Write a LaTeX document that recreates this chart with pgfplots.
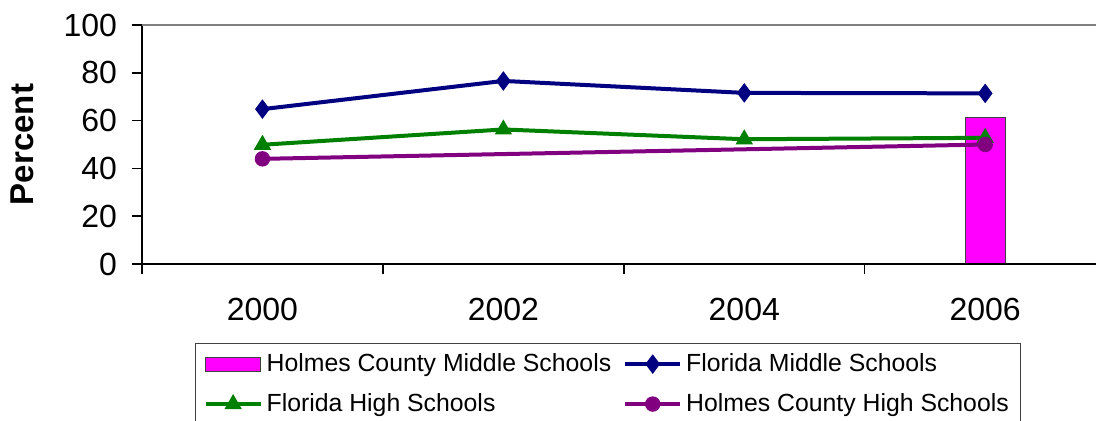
\documentclass[border=0pt]{standalone}
\usepackage{fontspec}
\setmainfont{Liberation Sans}
\usepackage{pgfplots}
\pgfplotsset{compat=1.18}
\definecolor{fmid}{RGB}{0,0,128}
\definecolor{fhigh}{RGB}{0,128,0}
\definecolor{hhigh}{RGB}{128,0,128}
\definecolor{hbar}{RGB}{255,0,255}
\begin{document}
\begin{tikzpicture}
\begin{axis}[
  at={(0,0)}, anchor=south west,
  scale only axis, width=477pt, height=119.5pt,
  xmin=-0.5, xmax=3.46, ymin=0, ymax=100,
  axis line style={draw=none},
  tick pos=left, tick align=outside,
  major tick length=5pt,
  tick style={black, line width=0.75pt},
  ytick={0,20,40,60,80,100},
  xtick={-0.5,0.5,1.5,2.5,3.5},
  xticklabels={},
  extra x ticks={0,1,2,3},
  extra x tick labels={2000,2002,2004,2006},
  extra x tick style={major tick length=0pt, xticklabel style={yshift=-13.5pt}},
  /pgf/number format/assume math mode=true,
  every tick label/.append style={font=\fontsize{16}{18}\selectfont},
  yticklabel style={xshift=-4pt},
  ylabel={\textbf{Percent}},
  ylabel style={at={(axis description cs:-0.1258,0.5)}, anchor=center, font=\fontsize{16.5}{18}\selectfont},
  legend columns=2,
  legend cell align=left,
  legend style={at={(axis description cs:0.0556,-0.3305)}, anchor=north west,
    draw=darkgray, line width=0.6pt, font=\fontsize{12.4}{14}\selectfont,
    row sep=5.5pt, inner xsep=4pt, inner ysep=3pt,
    /tikz/every even column/.append style={column sep=4pt}},
  legend image code/.code={\draw[mark repeat=2,mark phase=2,#1] plot coordinates {(0pt,0pt) (13.75pt,0pt) (27.5pt,0pt)};},
  clip=false,
]
\addplot[ybar, bar width=20pt, fill=hbar, draw=darkgray, line width=0.5pt,
  legend image code/.code={\draw[fill=hbar, draw=darkgray, line width=0.5pt] (0pt,-3.5pt) rectangle (27.5pt,3.5pt);}]
  coordinates {(3,61.5)};
\addlegendentry{Holmes County Middle Schools}
\addplot[fmid, line width=2pt, mark=diamond*, mark size=4.5pt, mark options={fill=fmid, draw=fmid, line width=0.5pt}]
  coordinates {(0,64.8) (1,76.6) (2,71.6) (3,71.4)};
\addlegendentry{Florida Middle Schools}
\addplot[fhigh, line width=2pt, mark=triangle*, mark size=4.5pt, mark options={fill=fhigh, draw=fhigh, line width=0.5pt}]
  coordinates {(0,49.9) (1,56.3) (2,52.2) (3,52.8)};
\addlegendentry{Florida High Schools}
\addplot[hhigh, line width=2pt, mark=*, mark size=3.6pt, mark options={fill=hhigh, draw=hhigh, line width=0.5pt}]
  coordinates {(0,44.0) (3,50.0)};
\addlegendentry{Holmes County High Schools}
\draw[black, line width=0.75pt] (axis description cs:0,0) -- (axis description cs:1,0);
\draw[black, line width=0.75pt] (axis description cs:0,0) -- (axis description cs:0,1);
\draw[gray, line width=0.75pt] (axis description cs:0,1) -- (axis description cs:1,1);
\end{axis}
\pgfresetboundingbox
\path[use as bounding box] (-71pt,-78pt) rectangle (477pt,132pt);
\end{tikzpicture}
\end{document}
